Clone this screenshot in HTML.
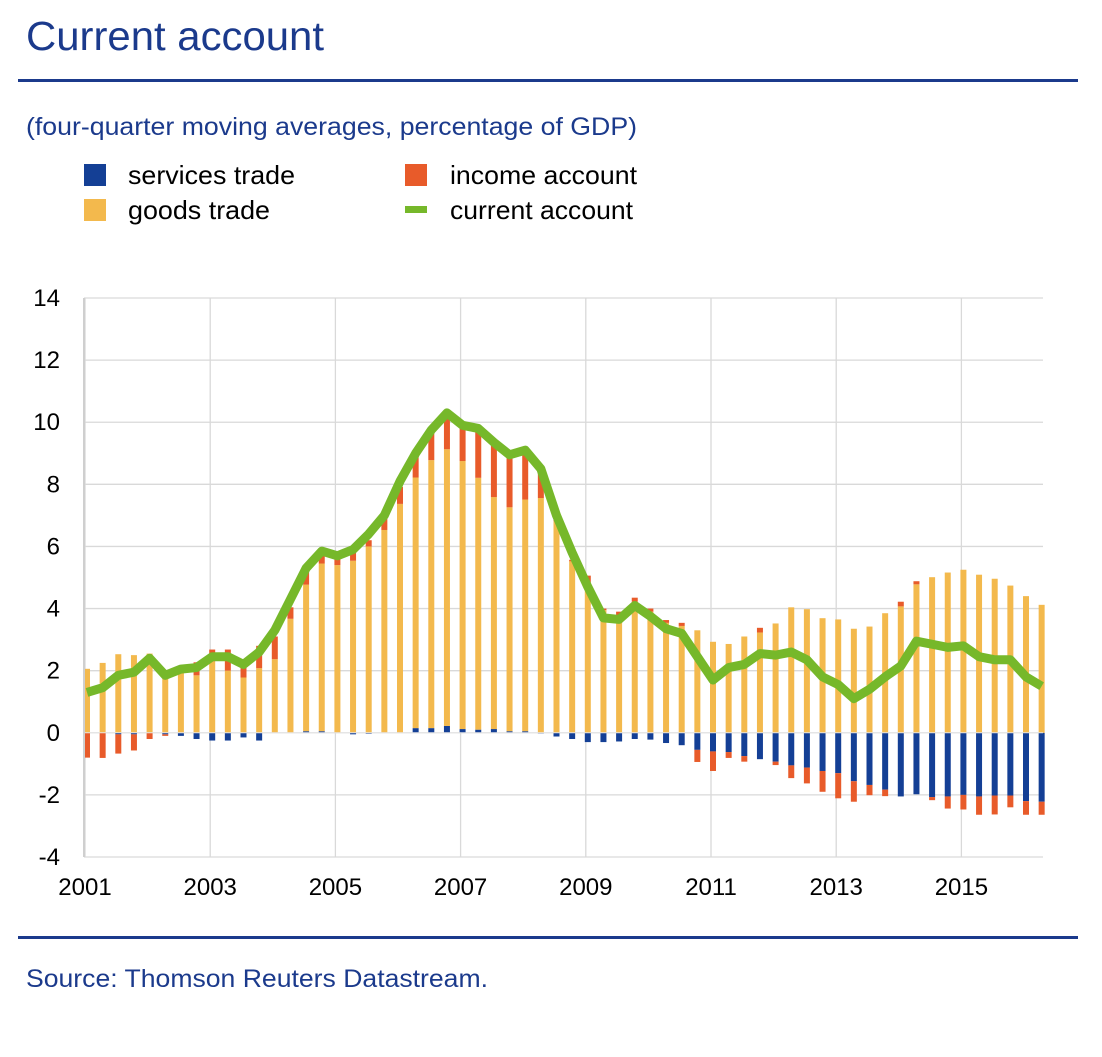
<!DOCTYPE html>
<html><head><meta charset="utf-8"><style>
body{margin:0;background:#fff;width:1102px;height:1052px;overflow:hidden;font-family:"Liberation Sans",sans-serif;}
</style></head><body>
<svg width="1102" height="1052" xmlns="http://www.w3.org/2000/svg" font-family="Liberation Sans, sans-serif">
<text x="26" y="50" font-size="41" fill="#1b3a8c" textLength="298" lengthAdjust="spacingAndGlyphs">Current account</text>
<rect x="18" y="79" width="1060" height="3" fill="#1b3a8c"/>
<text x="26" y="135" font-size="25" fill="#1b3a8c" textLength="611" lengthAdjust="spacingAndGlyphs">(four-quarter moving averages, percentage of GDP)</text>
<g>
<g><rect x="84" y="164" width="22" height="22" fill="#143f95"/><text x="128" y="184" font-size="26" fill="#000" textLength="167" lengthAdjust="spacingAndGlyphs">services trade</text></g>
<g><rect x="84" y="199" width="22" height="22" fill="#f3b94d"/><text x="128" y="219" font-size="26" fill="#000" textLength="142" lengthAdjust="spacingAndGlyphs">goods trade</text></g>
<g><rect x="405" y="164" width="22" height="22" fill="#e85b2a"/><text x="450" y="184" font-size="26" fill="#000" textLength="187" lengthAdjust="spacingAndGlyphs">income account</text></g>
<g><rect x="405" y="206" width="22" height="7" fill="#76b82a"/><text x="450" y="219" font-size="26" fill="#000" textLength="183" lengthAdjust="spacingAndGlyphs">current account</text></g>
</g>
<g id="grid"></g>
<g id="bars"></g>
<g id="line"></g>
<g id="axes"></g>
<rect x="18" y="936" width="1060" height="3" fill="#1b3a8c"/>
<text x="26" y="987" font-size="25" fill="#1b3a8c" textLength="462" lengthAdjust="spacingAndGlyphs">Source: Thomson Reuters Datastream.</text>
</svg>
<script>
const yTicks=[14,12,10,8,6,4,2,0,-2,-4];
const xTickLabels=["2001","2003","2005","2007","2009","2011","2013","2015"];
const goods=[2.06,2.25,2.53,2.5,2.55,1.75,1.95,1.85,2.3,2.0,1.78,2.08,2.37,3.67,4.72,5.4,5.4,5.54,6.0,6.53,7.37,8.07,8.63,8.91,8.63,8.11,7.47,7.21,7.46,7.56,6.81,5.52,4.84,3.95,3.79,4.22,3.9,3.54,3.44,3.3,2.93,2.86,3.1,3.23,3.52,4.04,3.98,3.69,3.65,3.35,3.42,3.85,4.07,4.78,5.01,5.16,5.25,5.09,4.96,4.74,4.4,4.12];
const services=[0,0,-0.05,-0.05,0,-0.05,-0.1,-0.2,-0.25,-0.25,-0.15,-0.25,0,0,0.05,0.05,0,-0.05,-0.03,0,0,0.15,0.15,0.22,0.12,0.1,0.12,0.05,0.05,-0.02,-0.12,-0.2,-0.3,-0.3,-0.28,-0.2,-0.22,-0.33,-0.4,-0.55,-0.6,-0.62,-0.75,-0.85,-0.93,-1.05,-1.12,-1.23,-1.3,-1.56,-1.68,-1.83,-2.05,-1.98,-2.07,-2.05,-2.0,-2.05,-2.02,-2.02,-2.2,-2.22];
const income=[-0.8,-0.81,-0.62,-0.52,-0.2,-0.05,0.02,0.42,0.38,0.68,0.47,0.72,0.73,0.37,0.43,0.3,0.2,0.29,0.2,0.41,0.55,0.78,0.97,1.17,1.21,1.54,1.69,1.64,1.51,0.8,0.19,0.05,0.22,0.05,0.11,0.13,0.1,0.09,0.1,-0.39,-0.63,-0.19,-0.18,0.15,-0.11,-0.41,-0.51,-0.67,-0.81,-0.66,-0.33,-0.21,0.15,0.1,-0.1,-0.39,-0.47,-0.59,-0.61,-0.38,-0.44,-0.42];
const current=[1.3,1.45,1.85,1.95,2.4,1.85,2.05,2.1,2.45,2.45,2.2,2.6,3.3,4.3,5.3,5.85,5.7,5.9,6.4,7.0,8.1,9.0,9.75,10.3,9.9,9.8,9.35,8.95,9.1,8.5,7.0,5.8,4.7,3.7,3.65,4.1,3.75,3.35,3.2,2.45,1.7,2.1,2.2,2.55,2.5,2.6,2.35,1.8,1.55,1.1,1.4,1.8,2.15,2.95,2.85,2.75,2.8,2.45,2.35,2.35,1.8,1.5];
const NS="http://www.w3.org/2000/svg";
const L=84,R=1043,T=298,B=857,yMin=-4,yMax=14;
const yS=v=>T+(yMax-v)*(B-T)/(yMax-yMin);
const xYear=y=>85+(y-2001)*62.6;
const xQ=i=>87+i*15.65;
function mk(tag,attrs,parent){const e=document.createElementNS(NS,tag);for(const k in attrs)e.setAttribute(k,attrs[k]);parent.appendChild(e);return e;}
const grid=document.getElementById('grid'),bars=document.getElementById('bars'),axes=document.getElementById('axes'),line=document.getElementById('line');
yTicks.forEach(t=>{
 const g=mk('line',{x1:L,x2:R,y1:yS(t),y2:yS(t),stroke:'#d9d9d9','stroke-width':1.3},grid);
 
 
 const tx=mk('text',{x:60,y:yS(t)+8,'font-size':24,'text-anchor':'end',fill:'#000'},axes);
 tx.textContent=t;
 
 
});
xTickLabels.forEach(lb=>{
 const x=xYear(+lb);
 const g=mk('line',{x1:x,x2:x,y1:T,y2:B,stroke:'#d9d9d9','stroke-width':1.3},grid);
 
 
 const tx=mk('text',{x:x,y:895,'font-size':24,'text-anchor':'middle',fill:'#000'},axes);
 tx.textContent=lb;
 
 
});
const ax=mk('line',{x1:L,x2:L,y1:T,y2:B,stroke:'#cfcfcf','stroke-width':2},axes);


const colors={goods:'#f3b94d',services:'#143f95',income:'#e85b2a'};
goods.forEach((_,i)=>{
 let pos=0,neg=0;
 [['services',services[i]],['goods',goods[i]],['income',income[i]]].forEach(([k,v])=>{
  if(!v)return;
  let y0,y1;
  if(v>0){y0=pos;y1=pos+v;pos=y1;}else{y0=neg;y1=neg+v;neg=y1;}
  const r=mk('rect',{x:xQ(i)-3,width:6,y:Math.min(yS(y0),yS(y1)),height:Math.abs(yS(y0)-yS(y1)),fill:colors[k]},bars);
  
  
 });
});
const zl=mk('line',{x1:L,x2:R,y1:yS(0),y2:yS(0),stroke:'#e6e6e6','stroke-width':1},bars);


const p=mk('polyline',{points:current.map((v,i)=>xQ(i)+','+yS(v)).join(' '),fill:'none',stroke:'#76b82a','stroke-width':9,'stroke-linejoin':'round'},line);


</script>
</body></html>
